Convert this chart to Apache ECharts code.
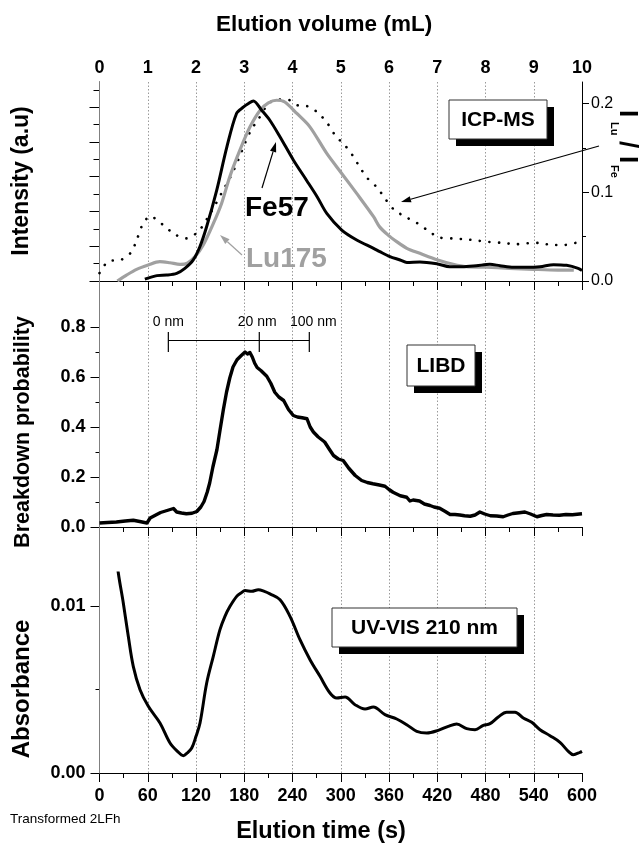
<!DOCTYPE html>
<html><head><meta charset="utf-8">
<script src="https://cdn.jsdelivr.net/npm/echarts@6/dist/echarts.min.js"></script>
<style>html,body{margin:0;padding:0;background:#fff}#c{width:639px;height:843px}</style>
</head><body><div id="c"></div>
<script>
// ---------- data ----------
const fe57 = [[0.94,0.11],[1.19,0.31],[1.39,0.34],[1.60,0.44],[1.77,0.73],[1.94,1.2],[2.08,1.97],[2.22,3.12],[2.43,5.23],[2.64,7.72],[2.84,9.64],[2.98,10.0],[3.08,10.2],[3.19,10.36],[3.36,9.83],[3.53,9.25],[3.74,8.3],[4.02,6.95],[4.29,5.8],[4.51,4.85],[4.71,3.89],[5.02,2.93],[5.33,2.36],[5.68,1.88],[5.81,1.69],[6.02,1.40],[6.23,1.21],[6.37,1.07],[6.64,1.1],[7.01,0.98],[7.26,0.82],[7.51,0.82],[7.81,0.88],[8.09,0.96],[8.3,0.88],[8.58,0.79],[8.85,0.79],[9.13,0.82],[9.41,0.94],[9.68,0.9],[9.92,0.73],[10,0.6]];
const lu175 = [[0.37,0],[0.56,0.34],[0.77,0.67],[1.01,0.92],[1.25,1.11],[1.46,1.05],[1.67,0.96],[1.82,1.02],[1.98,1.4],[2.15,2.07],[2.36,3.31],[2.53,4.46],[2.7,6.0],[2.91,7.53],[3.12,8.87],[3.33,9.83],[3.5,10.25],[3.67,10.4],[3.84,10.3],[4.09,9.64],[4.36,8.87],[4.71,7.34],[5.02,6.19],[5.33,5.04],[5.68,3.7],[5.81,3.1],[6.02,2.55],[6.09,2.4],[6.37,1.88],[6.64,1.59],[7.01,1.21],[7.33,0.96],[7.6,0.82],[8.0,0.79],[8.5,0.73],[9.0,0.67],[9.5,0.63],[9.83,0.63]];
const ratioLuFe = [[0.0,0.009],[0.18,0.022],[0.45,0.024],[0.65,0.032],[0.77,0.046],[0.88,0.062],[1.05,0.073],[1.3,0.064],[1.55,0.053],[1.8,0.048],[2.05,0.056],[2.25,0.072],[2.38,0.084],[2.53,0.099],[2.72,0.118],[2.88,0.137],[3.02,0.156],[3.15,0.171],[3.29,0.182],[3.46,0.197],[3.63,0.204],[3.89,0.2045],[4.11,0.198],[4.31,0.197],[4.52,0.19],[4.72,0.178],[4.9,0.163],[5.07,0.154],[5.24,0.142],[5.41,0.127],[5.55,0.116],[5.76,0.105],[5.93,0.092],[6.11,0.080],[6.32,0.073],[6.59,0.065],[6.83,0.056],[7.04,0.049],[7.31,0.048],[7.59,0.047],[7.83,0.0455],[8.07,0.044],[8.35,0.043],[8.62,0.0415],[8.87,0.0425],[9.11,0.043],[9.38,0.0405],[9.62,0.0405],[9.87,0.043],[10.0,0.044]];
const libd = [[0,0.016],[10,0.018],[21,0.02],[32,0.024],[42,0.027],[50,0.022],[56,0.018],[59,0.016],[63,0.036],[70,0.048],[76,0.058],[84,0.066],[92,0.074],[96,0.06],[102,0.056],[108,0.053],[115,0.055],[121,0.062],[126,0.08],[130,0.102],[134,0.14],[137,0.176],[141,0.24],[146,0.309],[150,0.39],[154,0.469],[158,0.54],[162,0.596],[166,0.64],[171,0.669],[176,0.685],[181,0.700],[184,0.692],[187,0.698],[190,0.68],[193,0.655],[196,0.638],[201,0.625],[208,0.603],[213,0.575],[218,0.539],[223,0.52],[229,0.506],[235,0.47],[241,0.446],[246,0.44],[252,0.437],[258,0.433],[262,0.40],[266,0.38],[272,0.36],[280,0.34],[286,0.31],[291,0.286],[297,0.272],[303,0.266],[310,0.235],[318,0.206],[326,0.186],[333,0.178],[340,0.173],[348,0.168],[355,0.163],[360,0.15],[365,0.139],[374,0.125],[382,0.119],[386,0.104],[390,0.108],[398,0.104],[404,0.092],[411,0.086],[416,0.08],[423,0.075],[430,0.062],[436,0.05],[442,0.05],[448,0.048],[454,0.045],[461,0.043],[467,0.048],[473,0.06],[479,0.052],[486,0.045],[494,0.044],[502,0.041],[508,0.048],[514,0.054],[522,0.057],[529,0.06],[536,0.052],[544,0.041],[550,0.046],[556,0.05],[564,0.048],[572,0.047],[580,0.05],[588,0.049],[597,0.052],[600,0.053]];
const uvvis = [[20,0.0135],[23.4,0.0120],[29.6,0.0102],[35.8,0.0082],[42,0.0064],[50.4,0.0050],[60.7,0.0040],[75.2,0.0030],[87.7,0.0018],[97,0.0013],[104.2,0.00104],[109,0.0012],[114.7,0.0015],[120,0.0022],[125,0.0030],[133.3,0.0054],[141.5,0.0070],[149.8,0.0086],[156,0.0094],[162.3,0.0100],[170.6,0.0106],[176,0.0108],[181,0.01095],[189.3,0.0109],[197.5,0.0110],[205,0.0109],[212,0.01075],[224.5,0.0104],[236.9,0.0094],[249.3,0.0080],[261.8,0.0068],[274.2,0.0058],[286.6,0.0048],[295,0.0045],[305.3,0.00456],[317.7,0.0041],[330.2,0.00384],[340.5,0.00396],[355,0.0035],[369.6,0.00324],[382,0.0029],[394.5,0.0025],[406.9,0.0024],[421.3,0.00256],[433.7,0.0028],[444.2,0.00294],[456.6,0.00266],[467,0.0026],[477.3,0.00286],[485.6,0.00296],[495.9,0.00336],[506.3,0.00364],[516.7,0.00364],[527,0.0033],[537.5,0.00304],[547.8,0.0026],[560.2,0.00224],[572.6,0.00184],[583,0.0013],[589.2,0.0011],[597.5,0.00124],[600,0.0013]];
const sizeBarTimes = [85.6, 198.7, 260.9];
const sizeBarLabels = ['0 nm', '20 nm', '100 nm'];
const sizeBarLevel = 0.746;
const volumeRange = [0, 10];
const timeRange = [0, 600];
const intensityMajorTicks = [0, 2, 4, 6, 8, 10];
const intensityMinorTicks = [1, 3, 5, 7, 9, 11];
const ratioTicks = [0, 0.1, 0.2];
const ratioMinorTicks = [0.05, 0.15];
const absTicks = [0, 0.01];
const absLabels = ['0.00', '0.01'];
const absMinorTicks = [0.005];

// ---------- chart ----------
const FF = '"Liberation Sans", Arial, Helvetica, sans-serif';
const chart = echarts.init(document.getElementById('c'), null, {renderer: 'canvas'});
const L = 99.5, R = 57;
const blk = {color: '#000', width: 1};
const tickMajor = (len, inside) => ({show: true, inside: !!inside, length: len, lineStyle: blk});
const noLabel = {show: false};
const noSplit = {show: false};

const option = {
  animation: false,
  backgroundColor: '#fff',
  textStyle: {fontFamily: FF},
  grid: [
    {left: L, right: R, top: 82, height: 199},
    {left: L, right: R, top: 327, height: 200},
    {left: L, right: R, top: 573, height: 200},
    {left: L, right: R, top: 82, height: 691}
  ],
  xAxis: [
    {gridIndex: 0, type: 'value', position: 'top', min: volumeRange[0], max: volumeRange[1], interval: 1,
     axisLine: {lineStyle: blk}, axisTick: tickMajor(5, true),
     minorTick: {show: true, splitNumber: 2, length: 5, lineStyle: blk},
     axisLabel: {color: '#000', fontFamily: FF, fontWeight: 'bold', fontSize: 18, margin: 5},
     splitLine: noSplit},
    {gridIndex: 0, type: 'value', position: 'bottom', min: volumeRange[0], max: volumeRange[1], interval: 1,
     axisLine: {lineStyle: blk}, axisTick: tickMajor(9),
     minorTick: {show: true, splitNumber: 2, length: 5, lineStyle: blk},
     axisLabel: noLabel, splitLine: noSplit},
    {gridIndex: 1, type: 'value', min: timeRange[0], max: timeRange[1], interval: 60,
     axisLine: {lineStyle: blk}, axisTick: tickMajor(9),
     minorTick: {show: true, splitNumber: 2, length: 5, lineStyle: blk},
     axisLabel: noLabel, splitLine: noSplit},
    {gridIndex: 2, type: 'value', min: timeRange[0], max: timeRange[1], interval: 60,
     axisLine: {lineStyle: blk}, axisTick: tickMajor(9),
     minorTick: {show: true, splitNumber: 2, length: 5, lineStyle: blk},
     axisLabel: {color: '#000', fontFamily: FF, fontWeight: 'bold', fontSize: 18, margin: 14},
     splitLine: noSplit},
    {gridIndex: 3, type: 'value', min: timeRange[0], max: timeRange[1], interval: 60,
     axisLine: {show: false}, axisTick: {show: false}, axisLabel: noLabel,
     splitLine: {show: true, showMinLine: false, showMaxLine: false, lineStyle: {color: '#9a9a9a', width: 1, type: [1.5, 2]}}}
  ],
  yAxis: [
    {gridIndex: 0, type: 'value', position: 'left', min: 0, max: 11.45,
     axisLine: {show: true, lineStyle: blk}, axisTick: Object.assign(tickMajor(10), {customValues: intensityMajorTicks}),
     axisLabel: noLabel, splitLine: noSplit},
    {gridIndex: 0, type: 'value', position: 'left', min: 0, max: 11.45,
     axisLine: {show: false}, axisTick: Object.assign(tickMajor(6), {customValues: intensityMinorTicks}),
     axisLabel: noLabel, splitLine: noSplit},
    {gridIndex: 0, type: 'value', position: 'right', min: 0, max: 0.2243, z: 5,
     axisLine: {show: true, lineStyle: blk}, axisTick: Object.assign(tickMajor(7), {customValues: ratioTicks}),
     axisLabel: {show: true, customValues: ratioTicks, formatter: v => v.toFixed(1), color: '#000', fontFamily: FF, fontSize: 16, margin: 9},
     splitLine: noSplit},
    {gridIndex: 0, type: 'value', position: 'right', min: 0, max: 0.2243,
     axisLine: {show: false}, axisTick: Object.assign(tickMajor(4), {customValues: ratioMinorTicks}),
     axisLabel: noLabel, splitLine: noSplit},
    {gridIndex: 1, type: 'value', position: 'left', min: 0, max: 0.8, interval: 0.2,
     axisLine: {show: true, lineStyle: blk}, axisTick: tickMajor(9),
     minorTick: {show: true, splitNumber: 2, length: 4, lineStyle: blk},
     axisLabel: {formatter: v => v.toFixed(1), color: '#000', fontFamily: FF, fontWeight: 'bold', fontSize: 18, margin: 14},
     splitLine: noSplit},
    {gridIndex: 2, type: 'value', position: 'left', min: 0, max: 0.012,
     axisLine: {show: true, lineStyle: blk}, axisTick: Object.assign(tickMajor(9), {customValues: absTicks}),
     axisLabel: {show: true, customValues: absTicks, formatter: v => absLabels[absTicks.indexOf(v)] ?? '', color: '#000', fontFamily: FF, fontWeight: 'bold', fontSize: 18, margin: 14},
     splitLine: noSplit},
    {gridIndex: 2, type: 'value', position: 'left', min: 0, max: 0.012,
     axisLine: {show: false}, axisTick: Object.assign(tickMajor(4), {customValues: absMinorTicks}),
     axisLabel: noLabel, splitLine: noSplit},
    {gridIndex: 3, type: 'value', position: 'right', min: 0, max: 1, z: 1,
     axisLine: {show: true, lineStyle: {color: '#808080', width: 1}}, axisTick: {show: false},
     axisLabel: noLabel, splitLine: noSplit}
  ],
  series: [
    {name: 'Lu175', type: 'line', xAxisIndex: 1, yAxisIndex: 0, data: lu175, symbol: 'none', smooth: 0.3,
     lineStyle: {color: '#a0a0a0', width: 3.2}, z: 3},
    {name: 'Fe57', type: 'line', xAxisIndex: 1, yAxisIndex: 0, data: fe57, symbol: 'none', smooth: 0.3,
     lineStyle: {color: '#000', width: 3}, z: 4},
    {name: 'I_Lu/I_Fe', type: 'line', xAxisIndex: 1, yAxisIndex: 2, data: ratioLuFe, symbol: 'none', smooth: 0.3,
     lineStyle: {color: '#000', width: 2.6, type: [0.1, 9.5], cap: 'round'}, z: 2},
    {name: 'LIBD', type: 'line', xAxisIndex: 2, yAxisIndex: 4, data: libd, symbol: 'none',
     lineStyle: {color: '#000', width: 3.4, join: 'round'}},
    {name: 'UV-VIS', type: 'line', xAxisIndex: 3, yAxisIndex: 5, data: uvvis, symbol: 'none', smooth: 0.35,
     lineStyle: {color: '#000', width: 3}}
  ]
};
chart.setOption(option);

// ---------- annotations ----------
function arrow(x1, y1, x2, y2, color) {
  const a = Math.atan2(y2 - y1, x2 - x1), len = 10, w = 3.2;
  const bx = x2 - len * Math.cos(a), by = y2 - len * Math.sin(a);
  const px = -Math.sin(a), py = Math.cos(a);
  return [
    {type: 'line', z: 100, shape: {x1: x1, y1: y1, x2: bx, y2: by}, style: {stroke: color, lineWidth: 1.2}},
    {type: 'polygon', z: 100, shape: {points: [[x2, y2], [bx + w * px, by + w * py], [bx - w * px, by - w * py]]}, style: {fill: color}}
  ];
}
function box(x, y, w, h, text, size) {
  return [
    {type: 'rect', z: 100, shape: {x: x + 7, y: y + 7, width: w, height: h}, style: {fill: '#000'}},
    {type: 'rect', z: 101, shape: {x: x, y: y, width: w, height: h}, style: {fill: '#fff', stroke: '#333', lineWidth: 1}},
    {type: 'text', z: 102, x: x + w / 2, y: y + h / 2 + 1, style: {text: text, fontFamily: FF, fontWeight: 'bold', fontSize: size, fill: '#000', align: 'center', verticalAlign: 'middle'}}
  ];
}
function txt(x, y, text, size, weight, color, align, rot) {
  return {type: 'text', z: 102, x: x, y: y, rotation: rot || 0,
    style: {text: text, fontFamily: FF, fontWeight: weight, fontSize: size, fill: color, align: align, verticalAlign: 'middle'}};
}
const g = [];
g.push(txt(324, 25, 'Elution volume (mL)', 22.5, 'bold', '#000', 'center'));
g.push(txt(321, 832, 'Elution time (s)', 23.5, 'bold', '#000', 'center'));
g.push(txt(22, 181, 'Intensity (a.u)', 23, 'bold', '#000', 'center', Math.PI / 2));
g.push(txt(23, 432, 'Breakdown probability', 21.5, 'bold', '#000', 'center', Math.PI / 2));
g.push(txt(22.5, 689, 'Absorbance', 24, 'bold', '#000', 'center', Math.PI / 2));
g.push(txt(10, 819, 'Transformed 2LFh', 13.5, 'normal', '#000', 'left'));
g.push({type: 'group', x: 627.5, y: 145, rotation: -Math.PI / 2, z: 102, children: [
  {type: 'text', x: -35, y: 0, style: {text: 'I', fontFamily: FF, fontWeight: 'bold', fontSize: 26, fill: '#000', align: 'left', verticalAlign: 'middle'}},
  {type: 'text', x: -23, y: 13, style: {text: 'Lu', fontFamily: FF, fontWeight: 'bold', fontSize: 11, fill: '#000', align: 'left', verticalAlign: 'middle'}},
  {type: 'text', x: -4, y: 0, style: {text: '/', fontFamily: FF, fontWeight: 'bold', fontSize: 26, fill: '#000', align: 'left', verticalAlign: 'middle'}},
  {type: 'text', x: 11, y: 0, style: {text: 'I', fontFamily: FF, fontWeight: 'bold', fontSize: 26, fill: '#000', align: 'left', verticalAlign: 'middle'}},
  {type: 'text', x: 20, y: 13, style: {text: 'Fe', fontFamily: FF, fontWeight: 'bold', fontSize: 11, fill: '#000', align: 'left', verticalAlign: 'middle'}}
]});
g.push(...box(449, 100, 98, 39, 'ICP-MS', 21));
g.push(...box(407, 345, 68, 41, 'LIBD', 21));
g.push(...box(332, 608, 185, 39, 'UV-VIS 210 nm', 21));
g.push(txt(245, 208, 'Fe57', 28, 'bold', '#000', 'left'));
g.push(txt(246, 259, 'Lu175', 28, 'bold', '#a0a0a0', 'left'));
g.push(...arrow(262, 188, 276, 142, '#000'));
g.push(...arrow(242, 255, 220, 235, '#a0a0a0'));
g.push(...arrow(599, 146, 401, 202, '#000'));
const barPts = sizeBarTimes.map(t => chart.convertToPixel({xAxisIndex: 2, yAxisIndex: 4}, [t, sizeBarLevel]));
const tickTop = chart.convertToPixel({xAxisIndex: 2, yAxisIndex: 4}, [0, sizeBarLevel + 0.034])[1];
const tickBot = chart.convertToPixel({xAxisIndex: 2, yAxisIndex: 4}, [0, sizeBarLevel - 0.046])[1];
g.push({type: 'line', z: 100, shape: {x1: barPts[0][0], y1: barPts[0][1], x2: barPts[2][0], y2: barPts[2][1]}, style: {stroke: '#000', lineWidth: 1.2}});
barPts.forEach((p, i) => {
  g.push({type: 'line', z: 100, shape: {x1: p[0], y1: tickTop, x2: p[0], y2: tickBot}, style: {stroke: '#000', lineWidth: 1.2}});
  g.push(txt(p[0] + (i === 1 ? -2 : i === 2 ? 4 : 0), tickTop - 10, sizeBarLabels[i], 14, 'normal', '#000', 'center'));
});
chart.setOption({graphic: g});
</script>
</body></html>
